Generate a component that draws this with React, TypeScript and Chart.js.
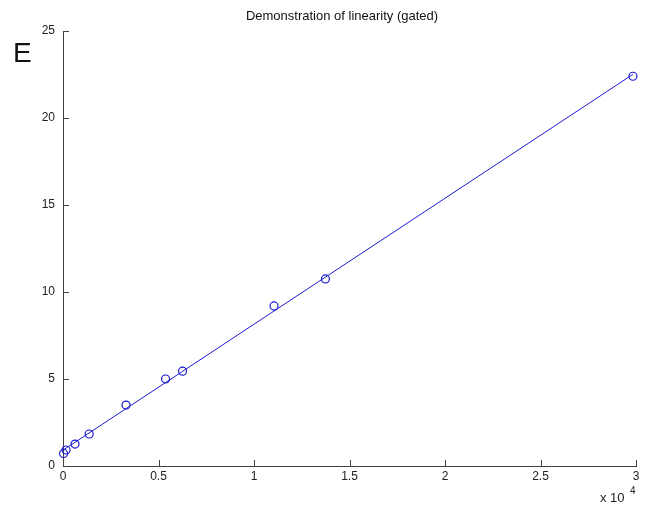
import React, { useEffect, useRef } from "react";
import { Chart, registerables } from "chart.js";

Chart.register(...registerables);

// Measured points (x in raw units, shown as ×10^4)
const pointX = [30, 160, 630, 1370, 3300, 5370, 6260, 11050, 13740, 29840];
const pointY = [0.72, 0.92, 1.26, 1.84, 3.5, 5.0, 5.45, 9.2, 10.75, 22.4];

// Fitted line endpoints
const fitX = [30, 29840];
const fitY = [0.93, 22.51];

const xTicks = [0, 5000, 10000, 15000, 20000, 25000, 30000];
const yTicks = [0, 5, 10, 15, 20, 25];

const titleText = "Demonstration of linearity (gated)";
const panelLetter = "E";

const BLUE = "#1a1ad0";
const AXIS = "#404040";
const FONT = "'Liberation Sans', Arial, Helvetica, sans-serif";

export default function App() {
  const ref = useRef<HTMLCanvasElement | null>(null);

  useEffect(() => {
    if (!ref.current) return;
    const decor = {
      id: "decor",
      afterDraw(chart: any) {
        const ctx = chart.ctx;
        const xs = chart.scales.x;
        const ys = chart.scales.y;
        const area = chart.chartArea;
        ctx.save();
        // inward ticks
        ctx.strokeStyle = AXIS;
        ctx.lineWidth = 1;
        ctx.beginPath();
        xTicks.forEach((t) => {
          const px = Math.round(xs.getPixelForValue(t)) + 0.5;
          ctx.moveTo(px, area.bottom);
          ctx.lineTo(px, area.bottom - 6);
        });
        yTicks.forEach((t) => {
          const py = Math.round(ys.getPixelForValue(t)) + 0.5;
          ctx.moveTo(area.left, py);
          ctx.lineTo(area.left + 6, py);
        });
        ctx.stroke();
        // title
        ctx.fillStyle = "#111";
        ctx.font = `13px ${FONT}`;
        ctx.textAlign = "center";
        ctx.textBaseline = "middle";
        ctx.fillText(titleText, 342, 16);
        // panel letter
        ctx.font = `28px ${FONT}`;
        ctx.textAlign = "left";
        ctx.textBaseline = "alphabetic";
        ctx.fillText(panelLetter, 13, 62);
        // exponent
        ctx.font = `13px ${FONT}`;
        ctx.fillStyle = "#222";
        ctx.fillText("x 10", 600, 502);
        ctx.font = `10px ${FONT}`;
        ctx.fillText("4", 630, 494);
        ctx.restore();
      },
    };

    const chart = new Chart(ref.current, {
      type: "scatter",
      data: {
        datasets: [
          {
            data: pointX.map((x, i) => ({ x, y: pointY[i] })),
            showLine: false,
            pointStyle: "circle",
            pointRadius: 4,
            pointBorderWidth: 1.2,
            borderColor: BLUE,
            backgroundColor: "rgba(0,0,0,0)",
            pointBackgroundColor: "rgba(0,0,0,0)",
            clip: false,
          },
          {
            data: fitX.map((x, i) => ({ x, y: fitY[i] })),
            showLine: true,
            pointRadius: 0,
            borderColor: BLUE,
            borderWidth: 1,
            clip: false,
          },
        ],
      },
      options: {
        responsive: false,
        animation: false,
        layout: { padding: { left: 0, right: 13, top: 31, bottom: 0 } },
        plugins: {
          legend: { display: false },
          title: { display: false },
          tooltip: { enabled: false },
        },
        scales: {
          x: {
            type: "linear",
            min: 0,
            max: 30000,
            afterFit: (s: any) => {
              s.height = 42;
            },
            afterBuildTicks: (s: any) => {
              s.ticks = xTicks.map((v) => ({ value: v }));
            },
            grid: { display: false, drawTicks: false, tickLength: 0 },
            border: { display: true, color: AXIS, width: 1 },
            ticks: {
              padding: 3,
              color: "#222",
              font: { family: FONT, size: 12 },
              maxRotation: 0,
              autoSkip: false,
              callback: (v: any) => String(Number(v) / 10000),
            },
          },
          y: {
            type: "linear",
            min: 0,
            max: 25,
            afterFit: (s: any) => {
              s.width = 63;
            },
            afterBuildTicks: (s: any) => {
              s.ticks = yTicks.map((v) => ({ value: v }));
            },
            grid: { display: false, drawTicks: false, tickLength: 0 },
            border: { display: true, color: AXIS, width: 1 },
            ticks: {
              padding: 8,
              color: "#222",
              font: { family: FONT, size: 12 },
              autoSkip: false,
              callback: (v: any) => String(v),
            },
          },
        },
      },
      plugins: [decor],
    } as any);
    return () => chart.destroy();
  }, []);

  return (
    <div style={{ position: "fixed", left: 0, top: 0, width: 649, height: 508, background: "#fff" }}>
      <canvas ref={ref} width={649} height={508} style={{ display: "block" }} />
    </div>
  );
}
